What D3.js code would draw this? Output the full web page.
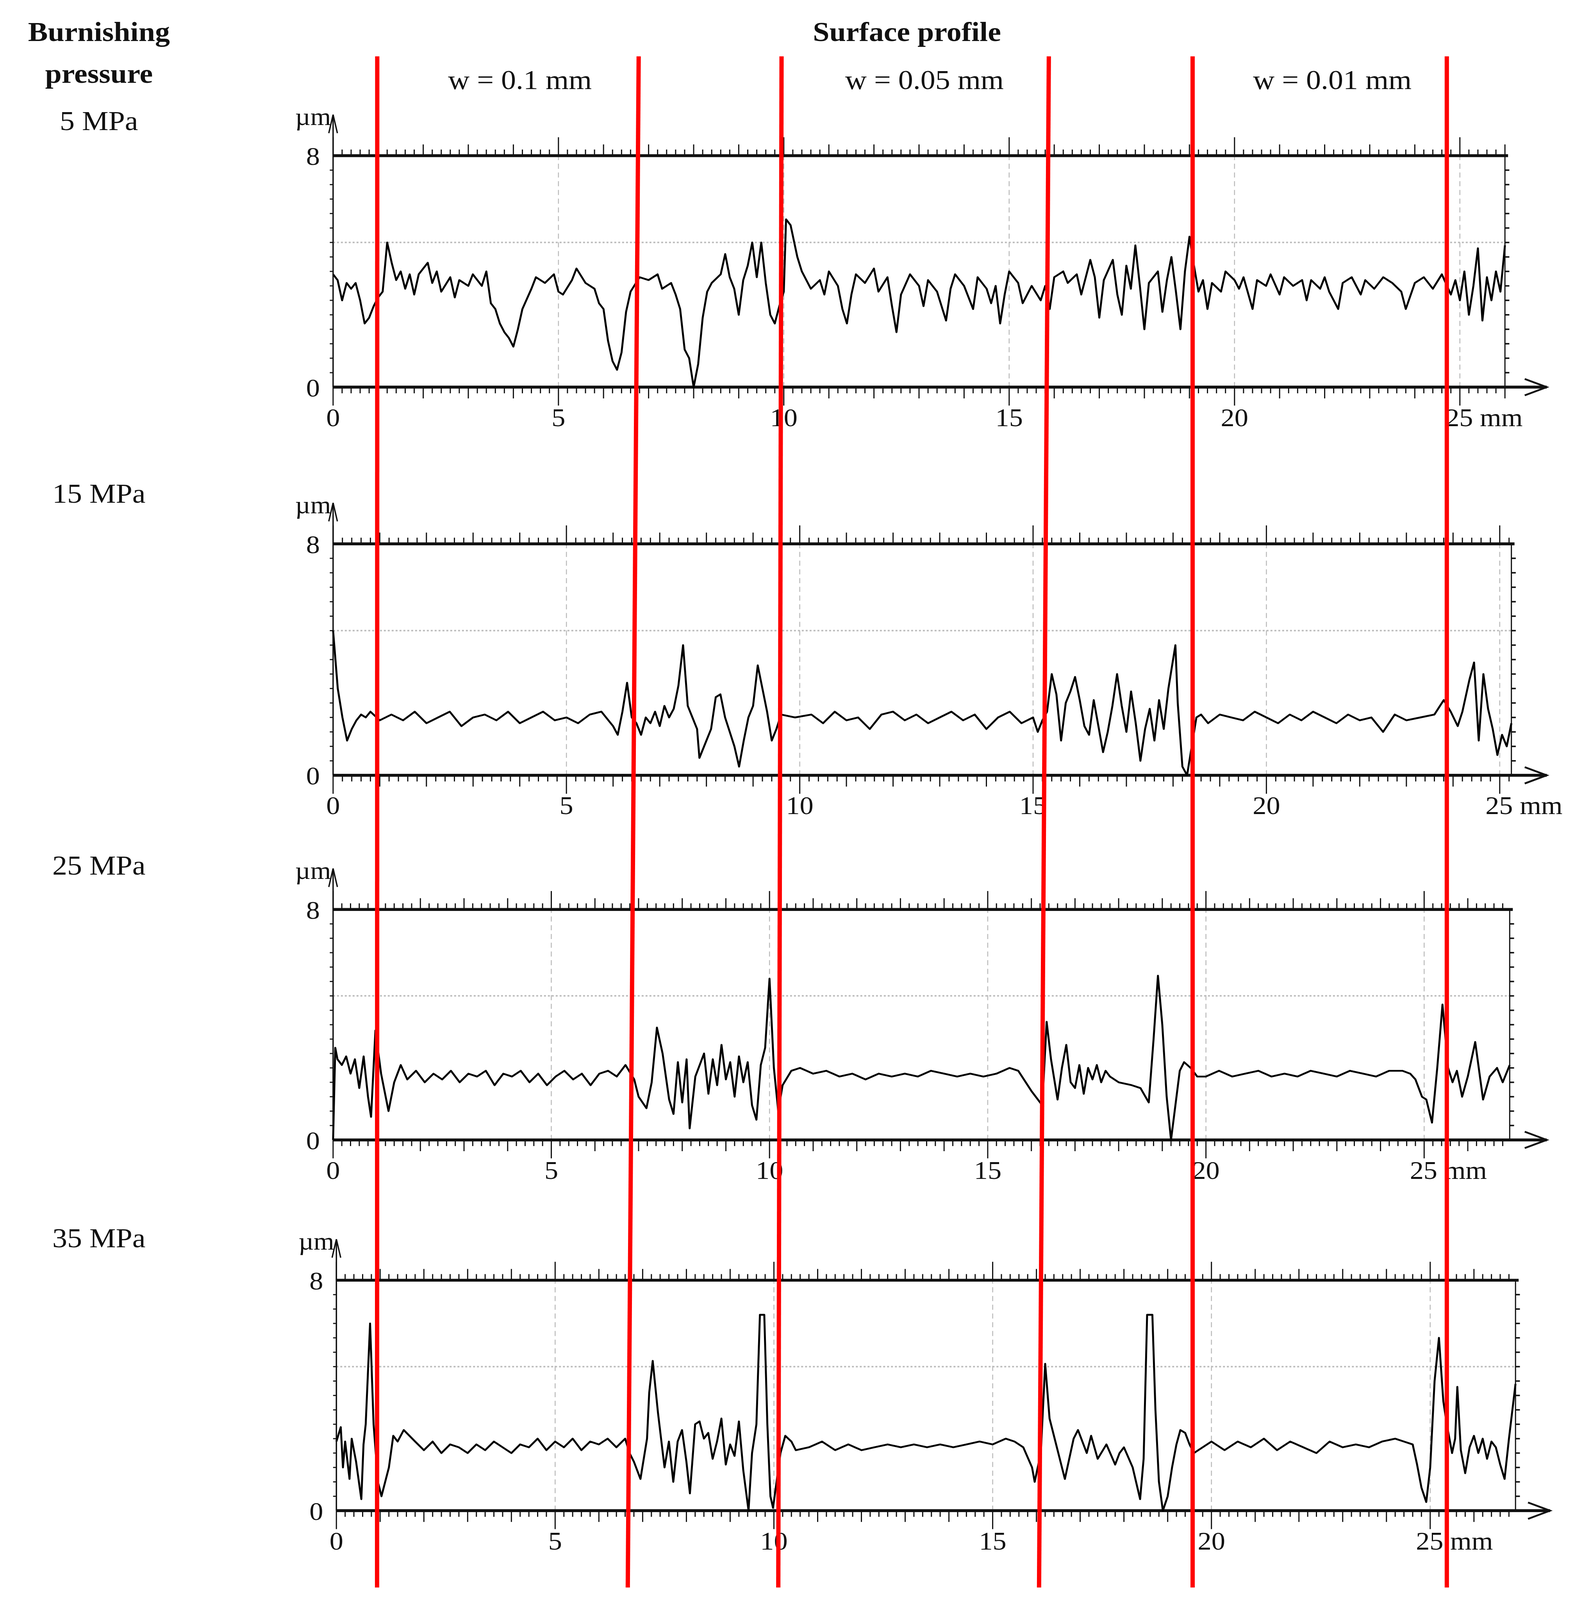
<!DOCTYPE html>
<html>
<head>
<meta charset="utf-8">
<script src="https://cdn.jsdelivr.net/npm/d3@7/dist/d3.min.js"></script>
<style>
  html, body { margin: 0; background: #fff; overflow: hidden; }
  svg { display: block; }
  text { font-family: "Liberation Serif", "DejaVu Serif", serif; fill: #111; }
</style>
</head>
<body>
<div id="chart"></div>
<script>
// profile data: [mm, µm]
const profile5 = [[0,3.9],[0.1,3.7],[0.2,3.0],[0.3,3.6],[0.4,3.4],[0.5,3.6],[0.6,3.0],[0.7,2.2],[0.8,2.4],[0.9,2.8],[1.0,3.1],[1.1,3.3],[1.2,5.0],[1.3,4.3],[1.4,3.7],[1.5,4.0],[1.6,3.4],[1.7,3.9],[1.8,3.2],[1.9,3.9],[2.0,4.1],[2.1,4.3],[2.2,3.6],[2.3,4.0],[2.4,3.3],[2.6,3.8],[2.7,3.1],[2.8,3.7],[3.0,3.5],[3.1,3.9],[3.3,3.5],[3.4,4.0],[3.5,2.9],[3.6,2.7],[3.7,2.2],[3.8,1.9],[3.9,1.7],[4.0,1.4],[4.1,2.0],[4.2,2.7],[4.4,3.4],[4.5,3.8],[4.7,3.6],[4.9,3.9],[5.0,3.3],[5.1,3.2],[5.3,3.7],[5.4,4.1],[5.6,3.6],[5.8,3.4],[5.9,2.9],[6.0,2.7],[6.1,1.6],[6.2,0.9],[6.3,0.6],[6.4,1.2],[6.5,2.6],[6.6,3.3],[6.8,3.8],[7.0,3.7],[7.2,3.9],[7.3,3.4],[7.5,3.6],[7.6,3.2],[7.7,2.7],[7.8,1.3],[7.9,1.0],[8.0,0.0],[8.1,0.8],[8.2,2.4],[8.3,3.3],[8.4,3.6],[8.6,3.9],[8.7,4.6],[8.8,3.8],[8.9,3.4],[9.0,2.5],[9.1,3.7],[9.2,4.2],[9.3,5.0],[9.4,3.8],[9.5,5.0],[9.6,3.6],[9.7,2.5],[9.8,2.2],[9.9,2.8],[10.0,3.3],[10.05,5.8],[10.15,5.6],[10.3,4.5],[10.4,4.0],[10.5,3.7],[10.6,3.4],[10.8,3.7],[10.9,3.2],[11.0,4.0],[11.2,3.5],[11.3,2.7],[11.4,2.2],[11.5,3.2],[11.6,3.9],[11.8,3.6],[12.0,4.1],[12.1,3.3],[12.3,3.8],[12.4,2.8],[12.5,1.9],[12.6,3.2],[12.8,3.9],[13.0,3.5],[13.1,2.8],[13.2,3.7],[13.4,3.3],[13.6,2.3],[13.7,3.4],[13.8,3.9],[14.0,3.5],[14.2,2.7],[14.3,3.8],[14.5,3.4],[14.6,2.9],[14.7,3.5],[14.8,2.2],[14.9,3.2],[15.0,4.0],[15.2,3.6],[15.3,2.9],[15.5,3.5],[15.7,3.0],[15.8,3.5],[15.9,2.7],[16.0,3.8],[16.2,4.0],[16.3,3.6],[16.5,3.9],[16.6,3.2],[16.8,4.4],[16.9,3.8],[17.0,2.4],[17.1,3.7],[17.3,4.4],[17.4,3.2],[17.5,2.5],[17.6,4.2],[17.7,3.4],[17.8,4.9],[17.9,3.5],[18.0,2.0],[18.1,3.6],[18.3,4.0],[18.4,2.6],[18.5,3.7],[18.6,4.5],[18.7,3.3],[18.8,2.0],[18.9,4.0],[19.0,5.2],[19.1,4.2],[19.2,3.3],[19.3,3.7],[19.4,2.7],[19.5,3.6],[19.7,3.3],[19.8,4.0],[20.0,3.7],[20.1,3.4],[20.2,3.8],[20.4,2.7],[20.5,3.7],[20.7,3.5],[20.8,3.9],[21.0,3.2],[21.1,3.8],[21.3,3.5],[21.5,3.7],[21.6,3.0],[21.7,3.7],[21.9,3.4],[22.0,3.8],[22.1,3.3],[22.3,2.7],[22.4,3.6],[22.6,3.8],[22.8,3.2],[22.9,3.7],[23.1,3.4],[23.3,3.8],[23.5,3.6],[23.7,3.3],[23.8,2.7],[24.0,3.6],[24.2,3.8],[24.4,3.4],[24.6,3.9],[24.8,3.2],[24.9,3.7],[25.0,3.0],[25.1,4.0],[25.2,2.5],[25.3,3.5],[25.4,4.8],[25.5,2.3],[25.6,3.8],[25.7,3.0],[25.8,4.0],[25.9,3.3],[26.0,4.9]];

const profile15 = [[0,5.0],[0.05,4.0],[0.1,3.0],[0.2,2.0],[0.3,1.2],[0.4,1.6],[0.5,1.9],[0.6,2.1],[0.7,2.0],[0.8,2.2],[1.0,1.9],[1.25,2.1],[1.5,1.9],[1.75,2.2],[2.0,1.8],[2.25,2.0],[2.5,2.2],[2.75,1.7],[3.0,2.0],[3.25,2.1],[3.5,1.9],[3.75,2.2],[4.0,1.8],[4.25,2.0],[4.5,2.2],[4.75,1.9],[5.0,2.0],[5.25,1.8],[5.5,2.1],[5.75,2.2],[6.0,1.7],[6.1,1.4],[6.2,2.2],[6.3,3.2],[6.4,2.0],[6.5,1.8],[6.6,1.4],[6.7,2.0],[6.8,1.8],[6.9,2.2],[7.0,1.7],[7.1,2.4],[7.2,2.0],[7.3,2.3],[7.4,3.1],[7.5,4.5],[7.6,2.4],[7.7,2.0],[7.8,1.6],[7.85,0.6],[8.0,1.2],[8.1,1.6],[8.2,2.7],[8.3,2.8],[8.4,2.0],[8.5,1.5],[8.6,1.0],[8.7,0.3],[8.8,1.2],[8.9,2.0],[9.0,2.4],[9.1,3.8],[9.2,3.0],[9.3,2.2],[9.4,1.2],[9.5,1.6],[9.6,2.1],[9.9,2.0],[10.25,2.1],[10.5,1.8],[10.75,2.2],[11.0,1.9],[11.25,2.0],[11.5,1.6],[11.75,2.1],[12.0,2.2],[12.25,1.9],[12.5,2.1],[12.75,1.8],[13.0,2.0],[13.25,2.2],[13.5,1.9],[13.75,2.1],[14.0,1.6],[14.25,2.0],[14.5,2.2],[14.75,1.8],[15.0,2.0],[15.1,1.5],[15.2,1.9],[15.3,2.2],[15.4,3.5],[15.5,2.8],[15.6,1.2],[15.7,2.5],[15.8,2.9],[15.9,3.4],[16.0,2.6],[16.1,1.7],[16.2,1.4],[16.3,2.6],[16.4,1.7],[16.5,0.8],[16.6,1.5],[16.7,2.4],[16.8,3.5],[16.9,2.4],[17.0,1.5],[17.1,2.9],[17.2,1.8],[17.3,0.5],[17.4,1.6],[17.5,2.3],[17.6,1.2],[17.7,2.6],[17.8,1.6],[17.9,3.0],[18.05,4.5],[18.1,2.5],[18.2,0.3],[18.3,0.0],[18.4,1.0],[18.5,2.0],[18.6,2.1],[18.75,1.8],[19.0,2.1],[19.25,2.0],[19.5,1.9],[19.75,2.2],[20.0,2.0],[20.25,1.8],[20.5,2.1],[20.75,1.9],[21.0,2.2],[21.25,2.0],[21.5,1.8],[21.75,2.1],[22.0,1.9],[22.25,2.0],[22.5,1.5],[22.75,2.1],[23.0,1.9],[23.3,2.0],[23.6,2.1],[23.8,2.6],[23.95,2.2],[24.1,1.7],[24.2,2.2],[24.35,3.3],[24.45,3.9],[24.55,1.2],[24.65,3.5],[24.75,2.3],[24.85,1.6],[24.95,0.7],[25.05,1.4],[25.15,1.0],[25.25,1.8]];

const profile25 = [[0,0.0],[0.05,3.2],[0.1,2.8],[0.2,2.6],[0.3,2.9],[0.4,2.3],[0.5,2.8],[0.6,1.8],[0.7,2.9],[0.8,1.5],[0.87,0.8],[0.97,3.8],[1.1,2.3],[1.27,1.0],[1.4,2.0],[1.55,2.6],[1.7,2.1],[1.9,2.4],[2.1,2.0],[2.3,2.3],[2.5,2.1],[2.7,2.4],[2.9,2.0],[3.1,2.3],[3.3,2.2],[3.5,2.4],[3.7,1.9],[3.9,2.3],[4.1,2.2],[4.3,2.4],[4.5,2.0],[4.7,2.3],[4.9,1.9],[5.1,2.2],[5.3,2.4],[5.5,2.1],[5.7,2.3],[5.9,1.9],[6.1,2.3],[6.3,2.4],[6.5,2.2],[6.7,2.6],[6.9,2.1],[7.0,1.5],[7.18,1.1],[7.3,2.0],[7.42,3.9],[7.55,3.0],[7.7,1.4],[7.8,0.9],[7.9,2.7],[8.0,1.3],[8.1,2.8],[8.17,0.4],[8.3,2.2],[8.5,3.0],[8.6,1.6],[8.7,2.8],[8.8,1.9],[8.9,3.3],[9.0,2.1],[9.1,2.7],[9.2,1.5],[9.3,2.9],[9.4,2.0],[9.5,2.7],[9.6,1.2],[9.7,0.7],[9.8,2.6],[9.9,3.2],[10.0,5.6],[10.1,2.5],[10.2,1.0],[10.3,1.9],[10.5,2.4],[10.7,2.5],[11.0,2.3],[11.3,2.4],[11.6,2.2],[11.9,2.3],[12.2,2.1],[12.5,2.3],[12.8,2.2],[13.1,2.3],[13.4,2.2],[13.7,2.4],[14.0,2.3],[14.3,2.2],[14.6,2.3],[14.9,2.2],[15.2,2.3],[15.5,2.5],[15.7,2.4],[16.0,1.7],[16.25,1.2],[16.35,4.1],[16.45,2.8],[16.6,1.4],[16.7,2.5],[16.8,3.3],[16.9,2.0],[17.0,1.8],[17.1,2.6],[17.2,1.6],[17.3,2.5],[17.4,2.1],[17.5,2.6],[17.6,2.0],[17.7,2.4],[17.8,2.2],[18.0,2.0],[18.3,1.9],[18.5,1.8],[18.69,1.3],[18.8,3.5],[18.9,5.7],[19.0,4.0],[19.1,1.5],[19.2,0.0],[19.3,1.2],[19.4,2.4],[19.5,2.7],[19.65,2.5],[19.8,2.2],[20.0,2.2],[20.3,2.4],[20.6,2.2],[20.9,2.3],[21.2,2.4],[21.5,2.2],[21.8,2.3],[22.1,2.2],[22.4,2.4],[22.7,2.3],[23.0,2.2],[23.3,2.4],[23.6,2.3],[23.9,2.2],[24.2,2.4],[24.5,2.4],[24.68,2.3],[24.8,2.1],[24.95,1.5],[25.05,1.4],[25.18,0.6],[25.3,2.5],[25.42,4.7],[25.55,2.5],[25.65,2.0],[25.75,2.4],[25.87,1.5],[26.0,2.2],[26.17,3.4],[26.35,1.4],[26.5,2.2],[26.67,2.5],[26.8,2.0],[26.96,2.6]];

const profile35 = [[0,2.4],[0.1,2.9],[0.15,1.5],[0.2,2.4],[0.3,1.1],[0.35,2.5],[0.45,1.7],[0.57,0.4],[0.62,2.3],[0.67,3.0],[0.77,6.5],[0.85,3.0],[0.95,1.0],[1.03,0.5],[1.2,1.5],[1.3,2.6],[1.4,2.4],[1.54,2.8],[1.8,2.4],[2.0,2.1],[2.2,2.4],[2.4,2.0],[2.6,2.3],[2.8,2.2],[3.0,2.0],[3.2,2.3],[3.4,2.1],[3.6,2.4],[3.8,2.2],[4.0,2.0],[4.2,2.3],[4.4,2.2],[4.6,2.5],[4.8,2.1],[5.0,2.4],[5.2,2.2],[5.4,2.5],[5.6,2.1],[5.8,2.4],[6.0,2.3],[6.2,2.5],[6.4,2.2],[6.6,2.5],[6.7,2.0],[6.8,1.7],[6.95,1.1],[7.1,2.5],[7.15,4.1],[7.23,5.2],[7.35,3.4],[7.5,1.5],[7.6,2.4],[7.7,1.0],[7.8,2.4],[7.9,2.8],[8.0,1.7],[8.08,0.6],[8.2,3.0],[8.3,3.1],[8.4,2.5],[8.5,2.7],[8.6,1.8],[8.7,2.4],[8.8,3.2],[8.9,1.6],[9.0,2.3],[9.1,1.9],[9.2,3.1],[9.3,1.4],[9.42,0.0],[9.5,2.0],[9.6,3.0],[9.68,6.8],[9.78,6.8],[9.85,3.0],[9.92,0.5],[9.98,0.1],[10.15,2.0],[10.26,2.6],[10.4,2.4],[10.5,2.1],[10.8,2.2],[11.1,2.4],[11.4,2.1],[11.7,2.3],[12.0,2.1],[12.3,2.2],[12.6,2.3],[12.9,2.2],[13.2,2.3],[13.5,2.2],[13.8,2.3],[14.1,2.2],[14.4,2.3],[14.7,2.4],[15.0,2.3],[15.3,2.5],[15.5,2.4],[15.7,2.2],[15.9,1.5],[15.96,1.0],[16.1,2.0],[16.2,5.1],[16.3,3.2],[16.5,2.0],[16.65,1.1],[16.75,1.8],[16.85,2.5],[16.95,2.8],[17.05,2.4],[17.15,2.0],[17.25,2.6],[17.4,1.8],[17.6,2.3],[17.8,1.6],[17.9,2.0],[18.0,2.2],[18.2,1.5],[18.37,0.4],[18.45,1.8],[18.53,6.8],[18.65,6.8],[18.72,3.5],[18.8,1.0],[18.89,0.0],[19.0,0.5],[19.1,1.5],[19.2,2.3],[19.29,2.8],[19.4,2.7],[19.5,2.3],[19.6,2.0],[19.7,2.1],[20.0,2.4],[20.3,2.1],[20.6,2.4],[20.9,2.2],[21.2,2.5],[21.5,2.1],[21.8,2.4],[22.1,2.2],[22.4,2.0],[22.7,2.4],[23.0,2.2],[23.3,2.3],[23.6,2.2],[23.9,2.4],[24.2,2.5],[24.4,2.4],[24.6,2.3],[24.7,1.6],[24.8,0.8],[24.91,0.3],[25.0,1.5],[25.1,4.5],[25.2,6.0],[25.3,3.8],[25.38,3.0],[25.5,2.0],[25.57,2.5],[25.62,4.3],[25.7,2.1],[25.8,1.3],[25.9,2.2],[26.0,2.6],[26.1,2.0],[26.2,2.5],[26.3,1.8],[26.4,2.4],[26.5,2.2],[26.6,1.6],[26.7,1.1],[26.8,2.5],[26.95,4.4]];

const pressures = ["5 MPa", "15 MPa", "25 MPa", "35 MPa"];
const profiles = [profile5, profile15, profile25, profile35];
const xMax = [26.0, 25.25, 26.96, 26.95];
const xTicks = [0, 5, 10, 15, 20, 25];
const yTicks = [0, 8];
const widthLabels = ["w = 0.1 mm", "w = 0.05 mm", "w = 0.01 mm"];
// red separators: mm position on top panel scale / bottom panel scale
const redTop = [0.98, 6.78, 9.95, 15.88, 19.07, 24.71];
const redBottom = [0.93, 6.66, 10.1, 16.06, 19.57, 25.38];

const W = 4053, H = 4397, S = W / 1440;
// fit the whole drawing into whatever viewport we get
const svg = d3.select("#chart").append("svg")
  .attr("viewBox", `0 0 ${W} ${H}`)
  .attr("preserveAspectRatio", "none")
  .attr("width", window.innerWidth || W)
  .attr("height", window.innerHeight || H);

// panel frames in reference-display units (scaled by S)
const frames = [
  { x0: 303, ppm: 41.0, y8: 152, y0: 378, lab: 118 },
  { x0: 303, ppm: 42.45, y8: 531, y0: 757, lab: 482 },
  { x0: 303, ppm: 39.7, y8: 888, y0: 1113, lab: 845 },
  { x0: 306, ppm: 39.8, y8: 1250, y0: 1475, lab: 1209 }
];
const fs = 27 * S;

svg.append("text").attr("x", 90 * S).attr("y", 40 * S).attr("text-anchor", "middle")
  .attr("font-weight", "bold").attr("font-size", fs).text("Burnishing");
svg.append("text").attr("x", 90 * S).attr("y", 81 * S).attr("text-anchor", "middle")
  .attr("font-weight", "bold").attr("font-size", fs).text("pressure");
svg.append("text").attr("x", 825 * S).attr("y", 40 * S).attr("text-anchor", "middle")
  .attr("font-weight", "bold").attr("font-size", fs).text("Surface profile");
[473, 841, 1212].forEach((cx, i) => {
  svg.append("text").attr("x", cx * S).attr("y", 87 * S).attr("text-anchor", "middle")
    .attr("font-size", fs).text(widthLabels[i]);
});

frames.forEach((f, i) => {
  const x = d3.scaleLinear().domain([0, xMax[i]]).range([f.x0 * S, (f.x0 + xMax[i] * f.ppm) * S]);
  const y = d3.scaleLinear().domain([0, 8]).range([f.y0 * S, f.y8 * S]);
  f.x = x; f.y = y;
  const g = svg.append("g");
  const xl = x(0), xr = x(xMax[i]);

  svg.append("text").attr("x", 90 * S).attr("y", (f.lab + 9) * S).attr("text-anchor", "middle")
    .attr("font-size", fs).text(pressures[i]);

  // grid
  g.selectAll(".vg").data(xTicks.filter(t => t > 0 && t < xMax[i])).join("line")
    .attr("x1", d => x(d)).attr("x2", d => x(d)).attr("y1", y(0)).attr("y2", y(8))
    .attr("stroke", "#bbb").attr("stroke-width", 2.5).attr("stroke-dasharray", "14,10");
  g.append("line").attr("x1", xl).attr("x2", xr).attr("y1", y(5)).attr("y2", y(5))
    .attr("stroke", "#bbb").attr("stroke-width", 4).attr("stroke-dasharray", "5,5");

  // frame
  g.append("line").attr("x1", xl).attr("x2", xl).attr("y1", y(0)).attr("y2", y(8) - 40 * S)
    .attr("stroke", "#111").attr("stroke-width", 3.5);
  g.append("path").attr("d", `M${xl - 11},${y(8) - 22 * S} L${xl},${y(8) - 40 * S} L${xl + 11},${y(8) - 22 * S}`)
    .attr("fill", "none").attr("stroke", "#111").attr("stroke-width", 3.5);
  g.append("line").attr("x1", xr).attr("x2", xr).attr("y1", y(0)).attr("y2", y(8))
    .attr("stroke", "#111").attr("stroke-width", 3);
  g.append("line").attr("x1", xl).attr("x2", xr + 8).attr("y1", y(8)).attr("y2", y(8))
    .attr("stroke", "#111").attr("stroke-width", 8);
  const arrowEnd = (f.x0 + 1104) * S;
  g.append("line").attr("x1", xl).attr("x2", arrowEnd).attr("y1", y(0)).attr("y2", y(0))
    .attr("stroke", "#111").attr("stroke-width", 8);
  g.append("path").attr("d", `M${arrowEnd - 20 * S},${y(0) - 8 * S} L${arrowEnd},${y(0)} L${arrowEnd - 20 * S},${y(0) + 8 * S}`)
    .attr("fill", "none").attr("stroke", "#111").attr("stroke-width", 5);

  // x ticks every 0.2 mm, top and bottom
  const minor = d3.range(0, xMax[i] + 0.001, 0.2).map(v => Math.round(v * 10) / 10);
  const len = v => (Math.abs(v % 5) < 0.01 ? 18 : Math.abs(v - Math.round(v)) < 0.01 ? 11 : 6) * S;
  g.selectAll(".bt").data(minor).join("line")
    .attr("x1", d => x(d)).attr("x2", d => x(d)).attr("y1", y(0)).attr("y2", d => y(0) + len(d))
    .attr("stroke", "#111").attr("stroke-width", 3);
  g.selectAll(".tt").data(minor).join("line")
    .attr("x1", d => x(d)).attr("x2", d => x(d)).attr("y1", y(8)).attr("y2", d => y(8) - len(d))
    .attr("stroke", "#111").attr("stroke-width", 3);
  // y ticks every 0.5 µm
  const yMinor = d3.range(0.5, 8, 0.5);
  g.selectAll(".rt").data(yMinor).join("line")
    .attr("x1", xr).attr("x2", xr + 4 * S).attr("y1", d => y(d)).attr("y2", d => y(d))
    .attr("stroke", "#111").attr("stroke-width", 4);
  g.selectAll(".lt").data(yMinor).join("line")
    .attr("x1", xl).attr("x2", xl - 3 * S).attr("y1", d => y(d)).attr("y2", d => y(d))
    .attr("stroke", "#111").attr("stroke-width", 3);

  // labels
  g.selectAll(".yl").data(yTicks).join("text")
    .attr("x", xl - 12 * S).attr("y", d => y(d) + 9 * S).attr("text-anchor", "end")
    .attr("font-size", 25 * S).text(d => d);
  g.append("text").attr("x", xl - 2 * S).attr("y", y(8) - 30 * S).attr("text-anchor", "end")
    .attr("font-size", 24 * S).text("µm");
  g.selectAll(".xl").data(xTicks).join("text")
    .attr("x", d => d === 25 ? x(d) - 13 * S : x(d)).attr("y", y(0) + 38 * S)
    .attr("text-anchor", d => d === 25 ? "start" : "middle")
    .attr("font-size", 25 * S).text(d => d === 25 ? "25 mm" : d);

  // profile
  g.append("path").datum(profiles[i])
    .attr("d", d3.line().x(d => x(d[0])).y(d => y(d[1])))
    .attr("fill", "none").attr("stroke", "#000").attr("stroke-width", 5).attr("stroke-linejoin", "round");
});

// red separator lines across all panels
const topY = 55 * S, botY = 1550 * S;
svg.selectAll(".red").data(redTop.map((t, k) => [t, redBottom[k]])).join("line")
  .attr("x1", d => frames[0].x(d[0])).attr("y1", topY)
  .attr("x2", d => frames[3].x(d[1])).attr("y2", botY)
  .attr("stroke", "#f00").attr("stroke-width", 11);
</script>
</body>
</html>
